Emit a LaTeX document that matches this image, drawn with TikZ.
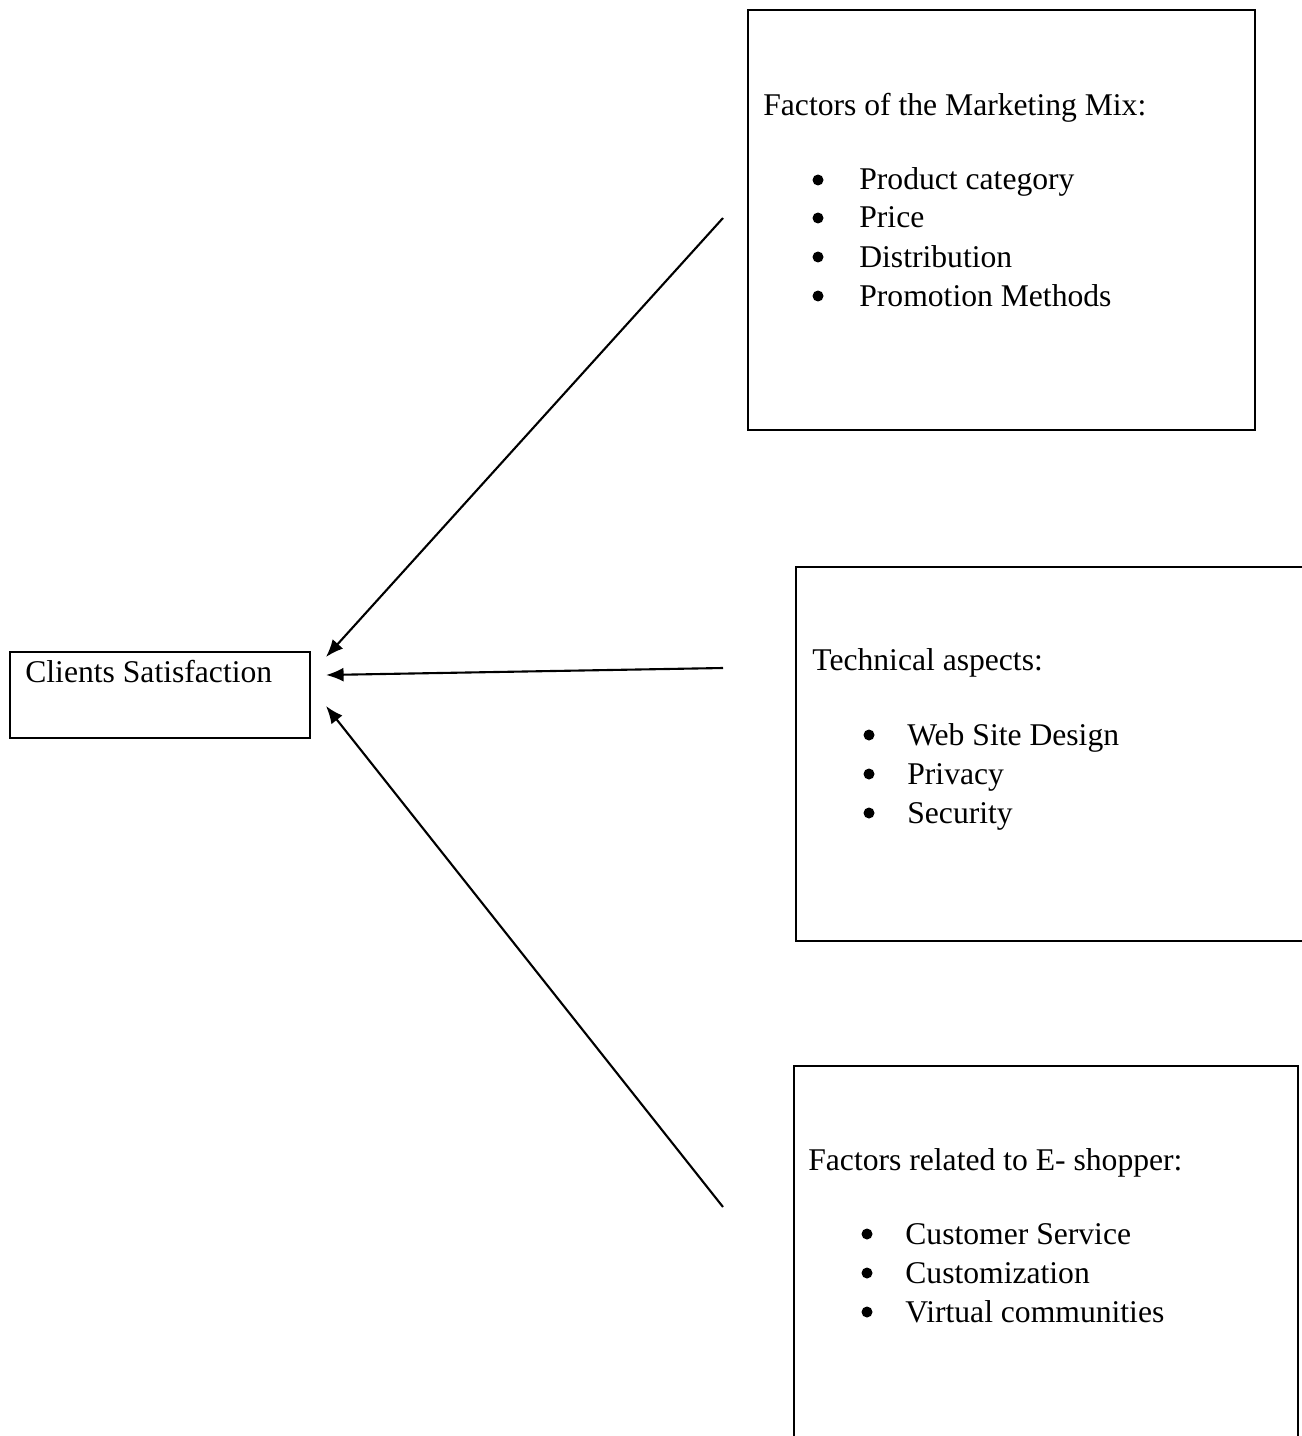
\documentclass[tikz,border=0pt]{standalone}
\usepackage{fontspec}
\setmainfont{Liberation Serif}
\usetikzlibrary{arrows.meta}

\tikzset{
  box/.style={draw, line width=1.6pt, inner sep=0pt},
  txt/.style={anchor=base west, inner sep=0pt, font=\fontsize{18}{22}\selectfont},
  bul/.style={circle, fill, inner sep=0pt, minimum size=0.22cm},
  arr/.style={line width=1.2pt, -{Latex[length=10pt,width=8pt]}},
}

\begin{document}
\begin{tikzpicture}[x=0.02cm, y=-0.02cm]
	    \useasboundingbox (0, 0) rectangle (1301, 1436);
	    
	    % boxes
	    \node[box, minimum width=6cm, minimum height=1.72cm] at (160, 695) (sat) {};
	    \node[box, minimum width=10.14cm, minimum height=8.4cm] at (1001.5, 220) (mix) {};
	    \node[box, minimum width=10.48cm, minimum height=7.48cm] at (1058, 754) (tech) {};
	    \node[box, minimum width=10.08cm, minimum height=7.88cm] at (1046, 1263) (shop) {};
	    
	    % texts
	    \node[txt] at (25, 682) (satT) {Clients Satisfaction};
	    \node[txt] at (763, 116) (mixT) {Factors of the Marketing Mix:};
	    \node[txt] at (812, 670) (techT) {Technical aspects:};
	    \node[txt] at (808, 1170) (shopT) {Factors related to E- shopper:};
	    
	    \foreach \y/\t in {190/Product category, 228/Price, 267/Distribution, 306/Promotion Methods} {
	        \node[bul] at (818, \y-10) (mixB\y) {};
	        \node[txt] at (859, \y) (mixI\y) {\t};
	    }
	    \foreach \y/\t in {745/Web Site Design, 784/Privacy, 823/Security} {
	        \node[bul] at (869, \y-10) (techB\y) {};
	        \node[txt] at (907, \y) (techI\y) {\t};
	    }
	    \foreach \y/\t in {1244/Customer Service, 1283/Customization, 1322/Virtual communities} {
	        \node[bul] at (867, \y-10) (shopB\y) {};
	        \node[txt] at (905, \y) (shopI\y) {\t};
	    }
	    
	    % arrow ends
	    \coordinate (mixS) at (723, 218);
	    \coordinate (techS) at (723, 668);
	    \coordinate (shopS) at (723, 1207);
	    \coordinate (mixE) at (326, 657);
	    \coordinate (techE) at (326, 675);
	    \coordinate (shopE) at (326, 706);
	    
	    \draw[arr] (mixS) -- (mixE);
	    \draw[arr] (techS) -- (techE);
	    \draw[arr] (shopS) -- (shopE);
	    
	    \end{tikzpicture}
\end{document}
